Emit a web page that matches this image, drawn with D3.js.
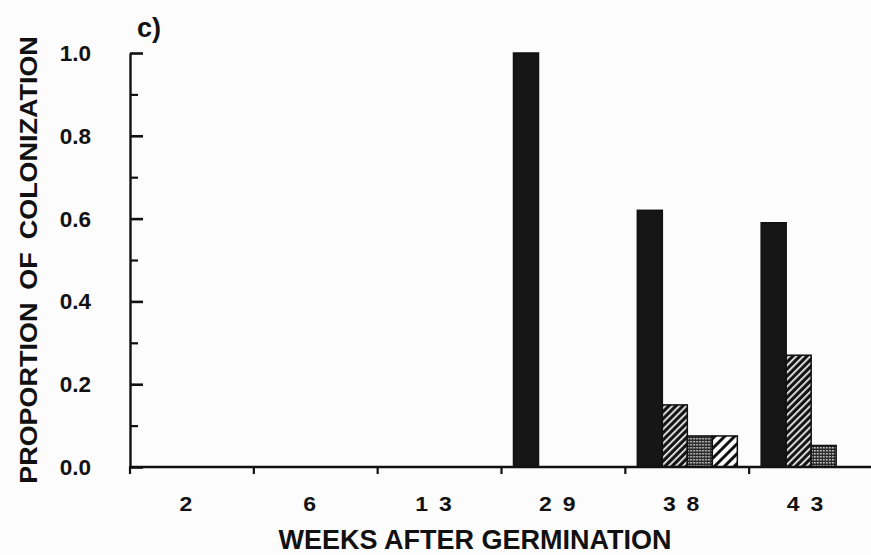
<!DOCTYPE html>
<html>
<head>
<meta charset="utf-8">
<script src="https://cdn.jsdelivr.net/npm/d3@7"></script>
<style>
  html, body { margin: 0; padding: 0; background: #fcfcfc; }
  svg { display: block; }
  text { font-family: "Liberation Sans", Arial, Helvetica, sans-serif; font-weight: bold; fill: #111; }
</style>
</head>
<body>
<svg id="chart" width="871" height="555"></svg>
<script>
// Weeks after germination (category keys) and their printed labels
const weeks = ["2", "6", "13", "29", "38", "43"];
const weekLabels = ["2", "6", "1 3", "2 9", "3 8", "4 3"];

// Proportion of colonization, one array per fill style
const seriesNames = ["solid", "denseHatch", "stipple", "lightHatch"];
const solid      = [0, 0, 0, 1.00, 0.62, 0.59];
const denseHatch = [0, 0, 0, 0,    0.15, 0.27];
const stipple    = [0, 0, 0, 0,    0.075, 0.052];
const lightHatch = [0, 0, 0, 0,    0.075, 0];

const yMajorTicks = [0, 0.2, 0.4, 0.6, 0.8, 1.0];
const yMinorTicks = [0.1, 0.3, 0.5, 0.7, 0.9];

const seriesValues = { solid, denseHatch, stipple, lightHatch };
const rows = weeks.map((w, i) => ({ week: w, values: seriesNames.map(s => ({ key: s, value: seriesValues[s][i] })) }));

const svg = d3.select("#chart");

const x = d3.scaleBand().domain(weeks).range([129, 872]).padding(0);
const xInner = d3.scaleBand().domain(seriesNames).range([13, 113]).padding(0);
const y = d3.scaleLinear().domain([0, 1]).range([467, 53]);

// Fill patterns
const defs = svg.append("defs");
const dh = defs.append("pattern").attr("id", "p-denseHatch").attr("patternUnits", "userSpaceOnUse")
  .attr("width", 5).attr("height", 5).attr("patternTransform", "rotate(45)");
dh.append("rect").attr("width", 5).attr("height", 5).attr("fill", "#141414");
dh.append("rect").attr("x", 0).attr("width", 1.8).attr("height", 5).attr("fill", "#e8e8e8");

const st = defs.append("pattern").attr("id", "p-stipple").attr("patternUnits", "userSpaceOnUse")
  .attr("width", 3).attr("height", 3);
st.append("rect").attr("width", 3).attr("height", 3).attr("fill", "#2a2a2a");
st.append("rect").attr("x", 0).attr("y", 0).attr("width", 1.5).attr("height", 1.5).attr("fill", "#e0e0e0");

const lh = defs.append("pattern").attr("id", "p-lightHatch").attr("patternUnits", "userSpaceOnUse")
  .attr("width", 7).attr("height", 7).attr("patternTransform", "rotate(45)");
lh.append("rect").attr("width", 7).attr("height", 7).attr("fill", "#fafafa");
lh.append("rect").attr("x", 0).attr("width", 3).attr("height", 7).attr("fill", "#111");

const fillFor = { solid: "#161616", denseHatch: "url(#p-denseHatch)", stipple: "url(#p-stipple)", lightHatch: "url(#p-lightHatch)" };

// Bars
const groups = svg.append("g").selectAll("g").data(rows).join("g")
  .attr("transform", d => `translate(${x(d.week)},0)`);
groups.selectAll("rect").data(d => d.values.filter(v => v.value > 0)).join("rect")
  .attr("x", d => xInner(d.key))
  .attr("width", xInner.bandwidth())
  .attr("y", d => y(d.value))
  .attr("height", d => y(0) - y(d.value))
  .attr("fill", d => fillFor[d.key])
  .attr("stroke", "#111")
  .attr("stroke-width", 1.5);

// Y axis: major and minor ticks pointing into the plot
const allYTicks = yMajorTicks.concat(yMinorTicks).sort((a, b) => a - b);
const isMajor = v => yMajorTicks.some(m => Math.abs(m - v) < 1e-9);
const yAxisG = svg.append("g").attr("transform", "translate(130,0)")
  .call(d3.axisRight(y).tickValues(allYTicks).tickSize(12).tickSizeOuter(0).tickFormat(""));
yAxisG.select(".domain").attr("stroke-width", 2.4).attr("stroke", "#111");
yAxisG.selectAll(".tick line")
  .attr("x2", d => isMajor(d) ? 13 : 8)
  .attr("stroke-width", d => isMajor(d) ? 2.6 : 2.2)
  .attr("stroke", "#111");

// Y tick labels
svg.append("g").selectAll("text").data(yMajorTicks).join("text")
  .attr("x", 91).attr("y", d => y(d) + 8)
  .attr("text-anchor", "end").attr("font-size", 22.5)
  .text(d => d.toFixed(1));

// X axis: baseline with ticks at band boundaries, pointing down
const xAxisG = svg.append("g").attr("transform", `translate(0,${y(0)})`)
  .call(d3.axisBottom(x).tickSize(0).tickFormat(""));
xAxisG.select(".domain").attr("d", "M129,0H871").attr("stroke", "#111").attr("stroke-width", 2.4);
svg.append("g").selectAll("line").data(weeks).join("line")
  .attr("x1", d => x(d) + 1).attr("x2", d => x(d) + 1)
  .attr("y1", y(0)).attr("y2", y(0) + 7)
  .attr("stroke", "#111").attr("stroke-width", 2.2);

svg.append("g").selectAll("text").data(weeks).join("text")
  .attr("transform", d => `translate(${x(d) + x.bandwidth() / 2 - 4},511) scale(1.12,1)`)
  .attr("text-anchor", "middle").attr("font-size", 20.5)
  .attr("letter-spacing", 2)
  .text((d, i) => weekLabels[i]);

// Axis titles and panel letter
svg.append("text").attr("x", 475).attr("y", 549).attr("text-anchor", "middle")
  .attr("font-size", 27).text("WEEKS AFTER GERMINATION");

svg.append("text").attr("transform", "translate(37,260) rotate(-90) scale(1.1,1)")
  .attr("text-anchor", "middle").attr("font-size", 24.5).attr("word-spacing", 5)
  .text("PROPORTION OF COLONIZATION");

svg.append("text").attr("x", 137).attr("y", 37).attr("font-size", 27).text("c)");
</script>
</body>
</html>
